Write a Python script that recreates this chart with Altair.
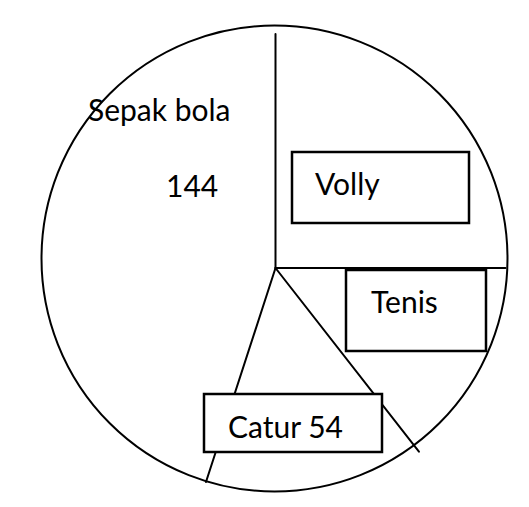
import math
import altair as alt
import pandas as pd

# ---- data (slice sizes as drawn, degrees; labels as written) ----
categories = ["Volly", "Tenis", "Catur", "Sepak bola"]
degrees = [90, 52, 56, 162]
label_texts = ["Sepak bola", "144", "Volly", "Tenis", "Catur 54"]

# ---- layout (page pixel coordinates, kept apart from the data) ----
W, H = 513, 491
circle_center = (274.5, 258.5)
circle_radius = 233
vertex = (275.5, 268)
ray_lengths = [234, 230, 233, 225]
label_pos = [(88, 121), (166, 197), (315, 195), (371, 313), (228, 438)]
box_pos = [(292, 469, 152, 223), (346, 486, 270, 351), (204, 382, 394, 452)]

xs = alt.Scale(domain=[8, 8 + W], nice=False, zero=False)
ys = alt.Scale(domain=[8, 8 + H], nice=False, zero=False, reverse=True)

# circle
circ_df = pd.DataFrame({"x": [circle_center[0]], "y": [circle_center[1]]})
circle = alt.Chart(circ_df).mark_arc(
    theta=0, theta2=2 * math.pi, radius=circle_radius,
    fill="white", stroke="black", strokeWidth=2
).encode(
    x=alt.X("x:Q", scale=xs, axis=None),
    y=alt.Y("y:Q", scale=ys, axis=None),
)

# slice boundaries from cumulative angles
starts = []
acc = 0
for d in degrees:
    starts.append(acc)
    acc += d
rays = []
for cat, a, L in zip(categories, starts, ray_lengths):
    r = math.radians(a)
    rays.append({
        "cat": cat,
        "x": vertex[0], "y": vertex[1],
        "x2": vertex[0] + L * math.sin(r),
        "y2": vertex[1] - L * math.cos(r),
    })
rays_df = pd.DataFrame(rays)
ray_layer = alt.Chart(rays_df).mark_rule(
    stroke="black", strokeWidth=2, strokeCap="round"
).encode(
    x=alt.X("x:Q", scale=xs, axis=None),
    y=alt.Y("y:Q", scale=ys, axis=None),
    x2="x2:Q",
    y2="y2:Q",
)

# label boxes
box_df = pd.DataFrame(box_pos, columns=["x", "x2", "y", "y2"])
boxes = alt.Chart(box_df).mark_rect(
    fill="white", stroke="black", strokeWidth=2.5
).encode(
    x=alt.X("x:Q", scale=xs, axis=None),
    x2="x2:Q",
    y=alt.Y("y:Q", scale=ys, axis=None),
    y2="y2:Q",
)

# labels
lab_df = pd.DataFrame({
    "text": label_texts,
    "x": [p[0] for p in label_pos],
    "y": [p[1] for p in label_pos],
})
labels = alt.Chart(lab_df).mark_text(
    align="left", baseline="alphabetic", font="Lato", fontSize=30,
    color="black"
).encode(
    x=alt.X("x:Q", scale=xs, axis=None),
    y=alt.Y("y:Q", scale=ys, axis=None),
    text="text:N",
)

chart = alt.layer(circle, ray_layer, boxes, labels).properties(
    width=W, height=H, padding=0,
    autosize=alt.AutoSizeParams(type="fit", contains="padding"),
).configure_view(stroke=None)

chart.save("out.html", embed_options={"renderer": "svg", "actions": False})
